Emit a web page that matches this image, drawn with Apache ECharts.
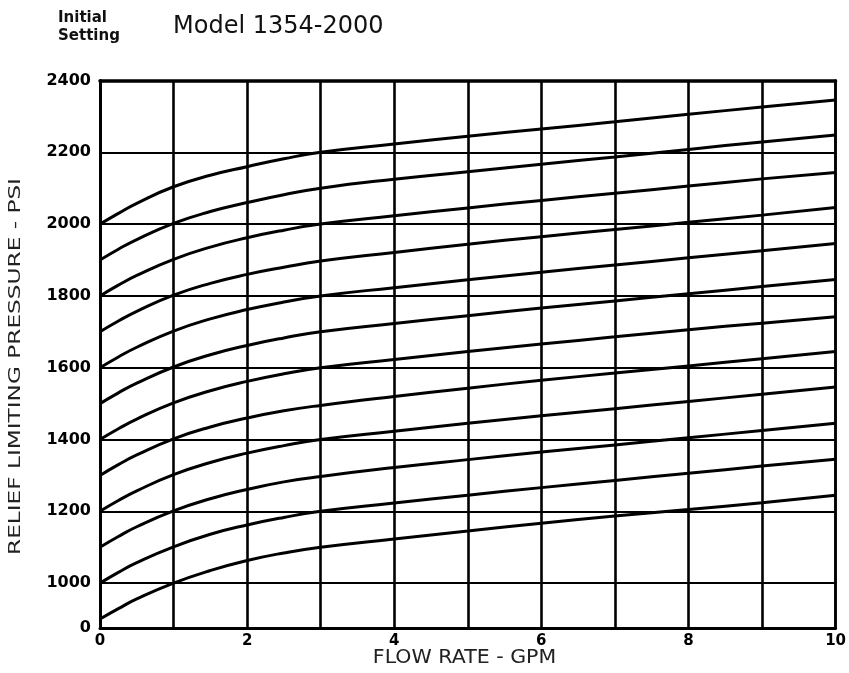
<!DOCTYPE html>
<html><head><meta charset="utf-8">
<script src="https://cdn.jsdelivr.net/npm/echarts@6/dist/echarts.min.js"></script>
<style>html,body{margin:0;padding:0;background:#fff}#c{width:849px;height:673px}</style>
</head><body><div id="c"></div>
<script>
// Flow rate sample points (GPM)
const flowGpm = [0, 0.25, 0.5, 1, 1.5, 2, 2.5, 3, 4, 5, 6, 7, 8, 9, 10];
// Relief limiting pressure (PSI) for each initial setting
const p900  = [900, 929, 956, 1000, 1035, 1063, 1084, 1100, 1123, 1145, 1167, 1187, 1205, 1224, 1245];
const p1000 = [1000, 1030, 1057, 1101, 1136, 1162, 1183, 1200, 1223, 1245, 1266, 1286, 1306, 1326, 1345];
const p1100 = [1100, 1130, 1157, 1201, 1235, 1261, 1282, 1297, 1322, 1344, 1365, 1385, 1405, 1425, 1445];
const p1200 = [1200, 1230, 1257, 1302, 1336, 1362, 1383, 1400, 1423, 1445, 1466, 1486, 1506, 1526, 1546];
const p1300 = [1300, 1330, 1357, 1402, 1435, 1460, 1480, 1495, 1520, 1543, 1565, 1585, 1605, 1625, 1645];
const p1400 = [1400, 1430, 1457, 1502, 1536, 1562, 1583, 1600, 1623, 1645, 1666, 1686, 1706, 1724, 1742];
const p1500 = [1500, 1530, 1557, 1602, 1636, 1662, 1683, 1700, 1723, 1745, 1766, 1786, 1806, 1826, 1846];
const p1600 = [1600, 1630, 1657, 1702, 1736, 1762, 1783, 1800, 1823, 1845, 1866, 1886, 1906, 1926, 1946];
const p1700 = [1700, 1730, 1757, 1802, 1835, 1860, 1880, 1897, 1921, 1944, 1965, 1985, 2005, 2025, 2046];
const p1800 = [1800, 1830, 1857, 1902, 1936, 1962, 1983, 2000, 2023, 2045, 2066, 2086, 2106, 2126, 2144];
const p1900 = [1900, 1930, 1957, 2002, 2035, 2060, 2082, 2100, 2125, 2146, 2167, 2187, 2208, 2229, 2248];
const p2000 = [2000, 2030, 2058, 2104, 2136, 2160, 2182, 2200, 2223, 2245, 2265, 2285, 2306, 2326, 2346];
const curveNames = ['900','1000','1100','1200','1300','1400','1500','1600','1700','1800','1900','2000'];
const curves = [p900, p1000, p1100, p1200, p1300, p1400, p1500, p1600, p1700, p1800, p1900, p2000];
// Tick labels
const xTickValues = [0, 2, 4, 6, 8, 10];
const xTickLabels = ['0', '2', '4', '6', '8', '10'];
const yTickValues = [875, 1000, 1200, 1400, 1600, 1800, 2000, 2200, 2400];
const yTickLabels = ['0', '1000', '1200', '1400', '1600', '1800', '2000', '2200', '2400'];

const chart = echarts.init(document.getElementById('c'), null, {renderer: 'canvas'});
const tickFont = {fontFamily: 'DejaVu Sans', fontWeight: 'bold', color: '#000'};
const clear = 'rgba(0,0,0,0)';

const option = {
  backgroundColor: '#fff',
  animation: false,
  grid: {left: 100, right: 11, top: 80.5, bottom: 45, containLabel: false},
  xAxis: [{
    type: 'value', min: 0, max: 10, interval: 1,
    axisLine: {show: true, onZero: false, lineStyle: {color: '#000', width: 3}},
    axisTick: {show: false},
    axisLabel: Object.assign({fontSize: 15, margin: 6, formatter: v => {
      const i = xTickValues.indexOf(v); return i >= 0 ? xTickLabels[i] : '';
    }}, tickFont),
    splitLine: {show: true, lineStyle: {color: '#000', width: 2.6}}
  }, {
    type: 'value', min: 0, max: 10, position: 'top',
    axisLine: {show: true, onZero: false, lineStyle: {color: '#000', width: 3.5}},
    axisTick: {show: false}, axisLabel: {show: false}, splitLine: {show: false}
  }],
  yAxis: [{
    type: 'value', min: 875, max: 2400, interval: 25,
    axisLine: {show: true, onZero: false, lineStyle: {color: '#000', width: 3}},
    axisTick: {show: false},
    axisLabel: Object.assign({fontSize: 16, margin: 9, formatter: v => {
      const i = yTickValues.indexOf(v); return i >= 0 ? yTickLabels[i] : '';
    }}, tickFont),
    splitLine: {show: true, lineStyle: {color: [clear, clear, clear, clear, clear, '#000', clear, clear], width: 2}}
  }, {
    type: 'value', min: 875, max: 2400, position: 'right',
    axisLine: {show: true, onZero: false, lineStyle: {color: '#000', width: 2.5}},
    axisTick: {show: false}, axisLabel: {show: false}, splitLine: {show: false}
  }],
  series: curves.map((vals, k) => ({
    name: curveNames[k], type: 'line', smooth: 0.5, symbol: 'none',
    xAxisIndex: 0, yAxisIndex: 0,
    lineStyle: {color: '#000', width: 3},
    data: flowGpm.map((x, i) => [x, vals[i]])
  })),
  graphic: [
    {type: 'text', x: 58, y: 18, style: {text: 'Initial', font: 'bold 15px "DejaVu Sans"', fill: '#111', verticalAlign: 'middle'}},
    {type: 'text', x: 58, y: 36, style: {text: 'Setting', font: 'bold 15px "DejaVu Sans"', fill: '#111', verticalAlign: 'middle'}},
    {type: 'text', x: 173, y: 26.5, style: {text: 'Model 1354-2000', font: '24px "DejaVu Sans"', fill: '#111', verticalAlign: 'middle'}},
    {type: 'text', x: 15.5, y: 366.5, rotation: Math.PI / 2, scaleX: 1.45,
      style: {text: 'RELIEF LIMITING PRESSURE - PSI', font: '16px "DejaVu Sans"', fill: '#222', align: 'center', verticalAlign: 'middle'}},
    {type: 'text', x: 464.5, y: 658, scaleX: 1.08,
      style: {text: 'FLOW RATE - GPM', font: '19px "DejaVu Sans"', fill: '#222', align: 'center', verticalAlign: 'middle'}}
  ]
};
chart.setOption(option);
</script>
</body></html>
